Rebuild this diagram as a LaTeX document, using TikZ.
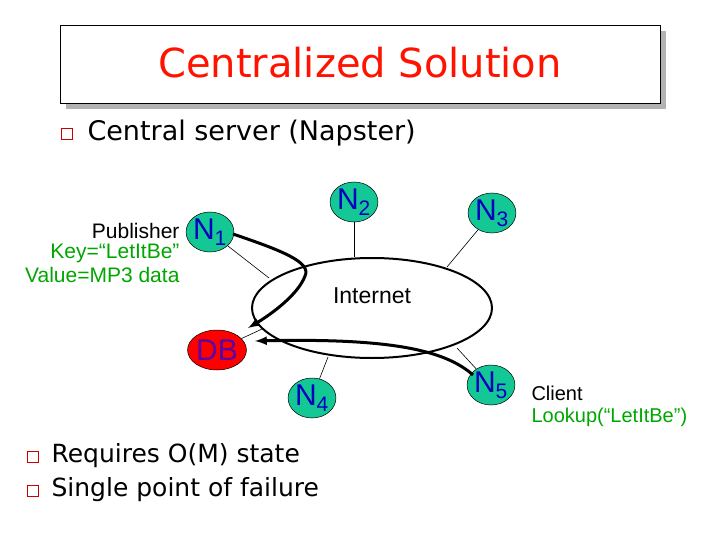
\documentclass[tikz,border=0pt]{standalone}
\usepackage{fontspec}
\setmainfont{Liberation Sans}
\newfontfamily\comic{DejaVu Sans}
\definecolor{peerfill}{RGB}{20,200,150}
\begin{document}
\begin{tikzpicture}[x=1pt,y=-1pt,
  peer/.style={ellipse,draw=black,line width=0.5pt,fill=peerfill,minimum width=47pt,minimum height=40pt,inner sep=0pt,text=blue!75!black,font=\fontsize{30}{30}\selectfont},
  link/.style={line width=0.6pt},
  flow/.style={line width=3pt,-latex},
  bul/.style={draw=red!80!black,line width=1.4pt,minimum size=11pt,inner sep=0pt},
  green/.style={text=green!65!black}]
\usetikzlibrary{shapes.geometric}
\useasboundingbox (0,0) rectangle (720,540);
\fill[gray!60] (66,31) rectangle (666,109);
\draw[fill=white,line width=0.6pt] (60,25) rectangle (660,103);
\node[text=red!85!orange,font=\comic\fontsize{40}{40}\selectfont] (title) at (360,63) {Centralized Solution};
\node[bul] (b1) at (67,134) {};
\node[anchor=west,font=\comic\fontsize{27}{27}\selectfont] (t1) at (84,133) {Central server (Napster)};
\draw[line width=2pt] (372,308) ellipse (120 and 50);
\node[font=\fontsize{23}{23}\selectfont] (inet) at (372,296) {Internet};
\node[peer] (n1) at (210,232) {N\textsubscript{1}};
\node[peer] (n2) at (354,202) {N\textsubscript{2}};
\node[peer] (n3) at (492,213) {N\textsubscript{3}};
\node[peer,fill=red,text=violet!70!blue] (db) at (217,350) {DB};
\node[peer] (n4) at (312,398) {N\textsubscript{4}};
\node[peer] (n5) at (491,385) {N\textsubscript{5}};
\coordinate (e1) at (269,278);
\coordinate (e2) at (354,257);
\coordinate (e3) at (447,267);
\coordinate (edb) at (262,329);
\coordinate (e4) at (328,357);
\coordinate (e5) at (457,348);
\draw[link] (n1) -- (e1);
\draw[link] (n2) -- (e2);
\draw[link] (n3) -- (e3);
\draw[link] (db) -- (edb);
\draw[link] (n4) -- (e4);
\draw[link] (n5) -- (e5);
\draw[flow] (233,234) .. controls (280,250) and (312,262) .. (305,276) .. controls (298,295) and (270,315) .. (248,328);
\draw[flow] (473,375) .. controls (445,350) and (390,338) .. (255,341);
\node[anchor=east,align=right,font=\fontsize{21}{21}\selectfont] (pub) at (183,231) {Publisher};
\node[anchor=north east,align=right,green,font=\fontsize{21}{24}\selectfont] (kv) at (183,241) {Key=“LetItBe”\\Value=MP3 data};
\node[anchor=west,font=\fontsize{20}{20}\selectfont] (cl) at (528,393) {Client};
\node[anchor=west,green,font=\fontsize{20}{20}\selectfont] (lk) at (528,417) {Lookup(“LetItBe”)};
\node[bul] (b2) at (33,457) {};
\node[anchor=west,font=\comic\fontsize{25}{25}\selectfont] (t2) at (48,456) {Requires O(M) state};
\node[bul] (b3) at (33,491) {};
\node[anchor=west,font=\comic\fontsize{25}{25}\selectfont] (t3) at (48,490) {Single point of failure};
\end{tikzpicture}
\end{document}
